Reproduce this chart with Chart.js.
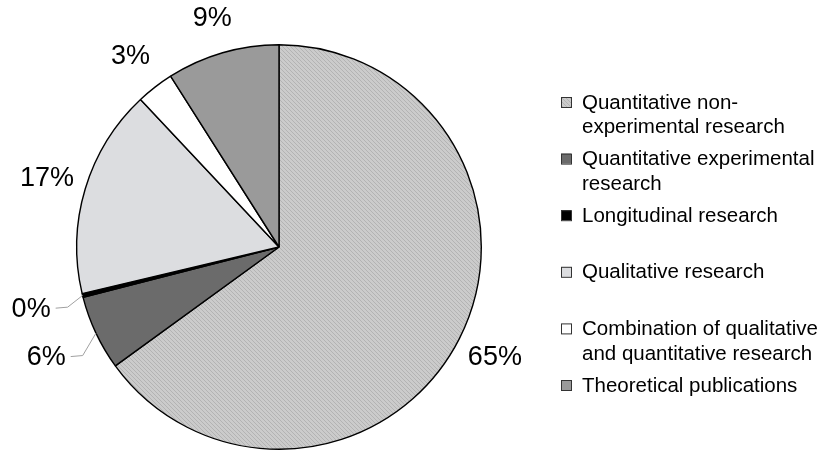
<!DOCTYPE html>
<html>
<head>
<meta charset="utf-8">
<script src="https://cdn.jsdelivr.net/npm/chart.js@4.4.1/dist/chart.umd.min.js"></script>
<style>
  html, body { margin: 0; padding: 0; background: #fff; }
  #wrap { width: 821px; height: 452px; position: relative; }
</style>
</head>
<body>
<div id="wrap"><canvas id="c" width="821" height="452"></canvas></div>
<script>
// Research types (multi-line labels as arrays of lines)
const categories = [
  ['Quantitative non-', 'experimental research'],
  ['Quantitative experimental', 'research'],
  ['Longitudinal research'],
  ['Qualitative research'],
  ['Combination of qualitative', 'and quantitative research'],
  ['Theoretical publications']
];
// Share of publications, percent
const shares = [65, 6, 0.3, 16.7, 3, 9];

// Fine diagonal hatch used for the largest slice
function hatchPattern() {
  const t = document.createElement('canvas');
  t.width = 4; t.height = 4;
  const g = t.getContext('2d');
  g.fillStyle = '#cbcbcb';
  g.fillRect(0, 0, 4, 4);
  g.fillStyle = '#b3b3b3';
  for (let i = 0; i < 4; i++) g.fillRect(i, i, 1, 1);
  return g.createPattern(t, 'repeat');
}

const sliceColors = [hatchPattern(), '#6b6b6b', '#000000', '#dcdde0', '#ffffff', '#9a9a9a'];
const FONT = '"Liberation Sans", Arial, sans-serif';

// Percent labels around the pie, with leader lines for the narrow slices
const sliceLabels = {
  id: 'sliceLabels',
  afterDraw(chart, args, opts) {
    const ctx = chart.ctx;
    const meta = chart.getDatasetMeta(0);
    const data = chart.data.datasets[0].data;
    const total = data.reduce((a, b) => a + b, 0);
    ctx.save();
    ctx.font = opts.fontSize + 'px ' + FONT;
    ctx.textAlign = 'center';
    ctx.textBaseline = 'middle';
    meta.data.forEach((arc, i) => {
      const p = arc.getProps(['x', 'y', 'startAngle', 'endAngle', 'outerRadius'], true);
      const mid = (p.startAngle + p.endAngle) / 2;
      const R = p.outerRadius;
      const d = R + opts.offsets[i];
      const lx = p.x + Math.cos(mid) * d;
      const ly = p.y + Math.sin(mid) * d;
      const text = Math.round(data[i] / total * 100) + '%';
      if (opts.leaders[i]) {
        const w = ctx.measureText(text).width;
        const ex = p.x + Math.cos(mid) * R;
        const ey = p.y + Math.sin(mid) * R;
        const sx = lx + w / 2 + 5;
        ctx.strokeStyle = '#a0a0a0';
        ctx.lineWidth = 1;
        ctx.beginPath();
        ctx.moveTo(sx, ly);
        ctx.lineTo(sx + 12, ly - 1);
        ctx.lineTo(ex, ey);
        ctx.stroke();
      }
      ctx.fillStyle = '#000';
      ctx.fillText(text, lx, ly + 1);
    });
    ctx.restore();
  }
};

// Legend drawn to the right of the pie with wrapped entries
const sideLegend = {
  id: 'sideLegend',
  afterDraw(chart, args, opts) {
    const ctx = chart.ctx;
    const ds = chart.data.datasets[0];
    ctx.save();
    ctx.font = opts.fontSize + 'px ' + FONT;
    ctx.textAlign = 'left';
    ctx.textBaseline = 'middle';
    chart.data.labels.forEach((lines, i) => {
      const y = opts.top + i * opts.pitch;
      ctx.fillStyle = ds.backgroundColor[i];
      ctx.fillRect(opts.boxX, y - 5, 10, 10);
      ctx.strokeStyle = '#333';
      ctx.lineWidth = 1;
      ctx.strokeRect(opts.boxX + 0.5, y - 5 + 0.5, 10, 10);
      ctx.fillStyle = '#000';
      lines.forEach((ln, k) => ctx.fillText(ln, opts.textX, y + k * opts.lineHeight + 1));
    });
    ctx.restore();
  }
};

new Chart(document.getElementById('c'), {
  type: 'pie',
  data: {
    labels: categories,
    datasets: [{
      data: shares,
      backgroundColor: sliceColors,
      borderColor: '#000',
      borderWidth: 1.4
    }]
  },
  options: {
    responsive: false,
    animation: false,
    events: [],
    layout: { padding: { left: 76, right: 339, top: 44, bottom: 2 } },
    plugins: {
      legend: { display: false },
      tooltip: { enabled: false },
      sliceLabels: { fontSize: 27, offsets: [40, 55, 53, 40, 40, 37], leaders: [false, true, true, false, false, false] },
      sideLegend: { fontSize: 20.5, top: 102, pitch: 56.6, lineHeight: 24.5, boxX: 561, textX: 582 }
    }
  },
  plugins: [sliceLabels, sideLegend]
});
</script>
</body>
</html>
